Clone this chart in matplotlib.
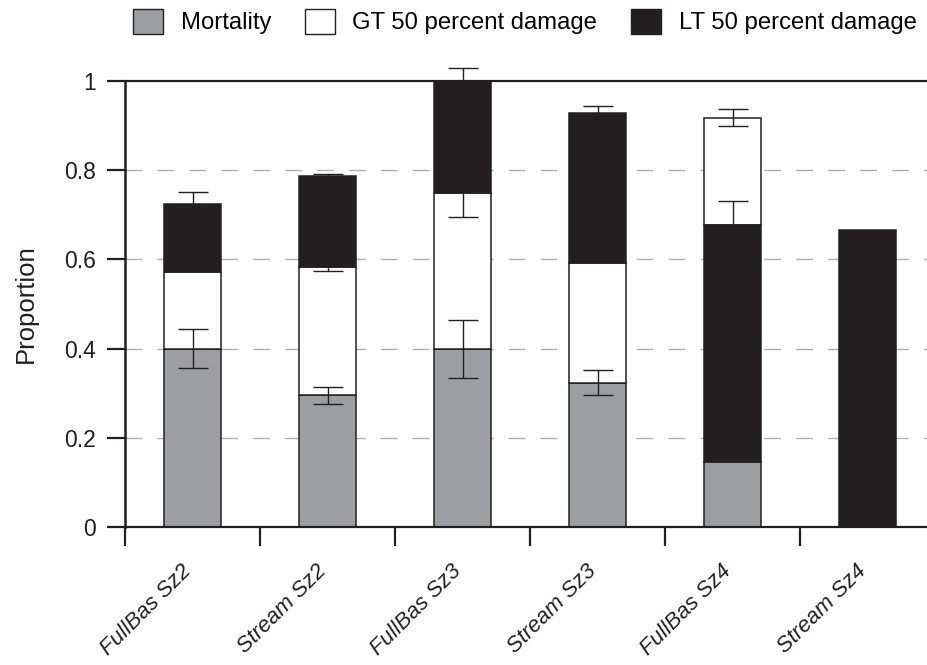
import numpy as np
import matplotlib
matplotlib.use("Agg")
import matplotlib.pyplot as plt
from matplotlib.patches import Patch

plt.rcParams["font.family"] = ["Liberation Sans", "DejaVu Sans"]

# proportions per site/size class
categories = ["FullBas Sz2", "Stream Sz2", "FullBas Sz3", "Stream Sz3", "FullBas Sz4", "Stream Sz4"]
mortality = [0.400, 0.295, 0.400, 0.323, 0.146, 0.0]
gt50 = [0.172, 0.287, 0.350, 0.268, 0.240, 0.0]
lt50 = [0.152, 0.206, 0.250, 0.337, 0.532, 0.667]
mortality_err = [0.043, 0.019, 0.065, 0.028, np.nan, np.nan]
gt50_err = [np.nan, 0.008, 0.055, np.nan, 0.019, np.nan]
lt50_err = [0.026, 0.003, 0.030, 0.017, 0.053, np.nan]

# stacking order of the segments in each bar
stack_order = [
    ["mort", "gt", "lt"],
    ["mort", "gt", "lt"],
    ["mort", "gt", "lt"],
    ["mort", "gt", "lt"],
    ["mort", "lt", "gt"],
    ["mort", "gt", "lt"],
]

DARK = "#231f20"
series = {
    "mort": dict(vals=mortality, err=mortality_err, color="#9d9ea1", label="Mortality"),
    "gt": dict(vals=gt50, err=gt50_err, color="white", label="GT 50 percent damage"),
    "lt": dict(vals=lt50, err=lt50_err, color=DARK, label="LT 50 percent damage"),
}

fig = plt.figure(figsize=(9.27, 6.65), dpi=100)
ax = fig.add_axes([125 / 927, 1 - 527 / 665, 810 / 927, 446 / 665])

x = np.arange(len(categories))
width = 0.42

# work out the bottom of every segment from the stacking order
bottoms = {k: np.zeros(len(categories)) for k in series}
for i, order in enumerate(stack_order):
    base = 0.0
    for key in order:
        bottoms[key][i] = base
        base += series[key]["vals"][i]

for key, s in series.items():
    ax.bar(x, s["vals"], width, bottom=bottoms[key], color=s["color"],
           edgecolor=DARK, linewidth=1.1, zorder=2)

for key, s in series.items():
    tops = bottoms[key] + np.array(s["vals"])
    err = np.array(s["err"])
    ok = ~np.isnan(err)
    ax.errorbar(x[ok], tops[ok], yerr=err[ok], fmt="none", ecolor=DARK,
                elinewidth=1.0, capsize=10.8, capthick=1.0, zorder=3, clip_on=False)

# dashed grid, solid line at 1
for yv in [0.2, 0.4, 0.6, 0.8]:
    ax.axhline(yv, color="#b0b0b0", linewidth=1.0, dashes=(12, 11), zorder=1)

ax.set_xlim(-0.5, 5.5)
ax.set_ylim(0, 1)

for side in ["left", "bottom", "top"]:
    ax.spines[side].set_color(DARK)
ax.spines["left"].set_linewidth(1.8)
ax.spines["bottom"].set_linewidth(1.6)
ax.spines["top"].set_linewidth(1.6)
ax.spines["right"].set_visible(False)

ax.set_yticks([0, 0.2, 0.4, 0.6, 0.8, 1.0])
ax.set_yticklabels(["0", "0.2", "0.4", "0.6", "0.8", "1"], fontsize=16.5, color=DARK)
ax.tick_params(axis="y", length=13, width=1.6, color=DARK, pad=8)

ax.set_xticks(np.arange(-0.5, 6.0, 1.0))
ax.set_xticklabels([])
ax.tick_params(axis="x", which="major", length=14, width=1.6, color=DARK)
ax.set_xticks(x, minor=True)
ax.set_xticklabels(categories, minor=True, rotation=45, ha="right", va="baseline",
                   rotation_mode="anchor", fontsize=16, style="italic", color=DARK)
ax.tick_params(axis="x", which="minor", length=0, pad=32)

ax.set_ylabel("Proportion", fontsize=18.5, color=DARK)
ax.yaxis.set_label_coords(-0.108, 0.5)

handles = [Patch(facecolor=s["color"], edgecolor=DARK, linewidth=1.0, label=s["label"])
           for s in series.values()]
fig.legend(handles=handles, loc="upper left", bbox_to_anchor=(133 / 927, 1 - 9 / 665),
           ncol=3, frameon=False, fontsize=17.2, borderpad=0, borderaxespad=0,
           handlelength=1.25, handleheight=1.22, handletextpad=0.75, columnspacing=1.4)

fig.savefig("out.png", dpi=100)
